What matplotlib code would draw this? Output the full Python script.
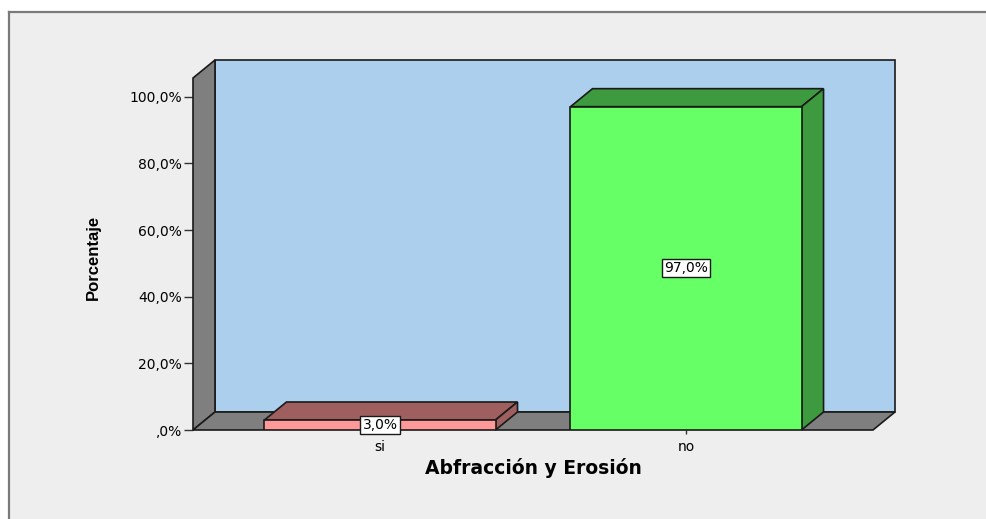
import matplotlib
matplotlib.use("Agg")
import matplotlib.pyplot as plt
from matplotlib.patches import Polygon, Rectangle
from matplotlib.lines import Line2D

categories = ["si", "no"]
percentages = [3.0, 97.0]
front_colors = ["#FF9999", "#66FF66"]
shade_colors = ["#A05F5F", "#3E9A3E"]
yticks = [0, 20, 40, 60, 80, 100]
ytick_labels = [",0%", "20,0%", "40,0%", "60,0%", "80,0%", "100,0%"]

W, H = 986, 519
fig = plt.figure(figsize=(W / 100, H / 100), dpi=100, facecolor="white")

# grey chart frame (open on the right/bottom)
fig.patches.append(Rectangle((9 / W, 0), 1, 1 - 12 / H, transform=fig.transFigure,
                             facecolor="#EEEEEE", edgecolor="none", zorder=-5))
fig.lines.append(Line2D([9 / W, 9 / W], [0, 1 - 12 / H], transform=fig.transFigure,
                        color="#7A7A7A", lw=1.6, zorder=-4))
fig.lines.append(Line2D([9 / W, 1], [1 - 12 / H, 1 - 12 / H], transform=fig.transFigure,
                        color="#7A7A7A", lw=1.6, zorder=-4))

x0, x1 = -0.611, 1.611
ytop = 105.6
ax = fig.add_axes([193 / W, (H - 430) / H, 680 / W, 352 / H])
ax.set_zorder(2)
ax.set_xlim(x0, x1)
ax.set_ylim(0, ytop)
ax.patch.set_visible(False)
for s in ax.spines.values():
    s.set_visible(False)

# depth of the 3D box, in data units
dx = 22 / (680 / (x1 - x0))
dy = 18 / (352 / ytop)

edge = dict(edgecolor="#1A1A1A", linewidth=1.2, clip_on=False)
# back wall, left wall, floor
ax.add_patch(Polygon([(x0 + dx, dy), (x1 + dx, dy), (x1 + dx, ytop + dy), (x0 + dx, ytop + dy)],
                     facecolor="#ACCFEE", zorder=1, **edge))
ax.add_patch(Polygon([(x0, 0), (x0 + dx, dy), (x0 + dx, ytop + dy), (x0, ytop)],
                     facecolor="#7F7F7F", zorder=2, **edge))
ax.add_patch(Polygon([(x0, 0), (x1, 0), (x1 + dx, dy), (x0 + dx, dy)],
                     facecolor="#7F7F7F", zorder=2, **edge))

bar_w = 0.755
bars = ax.bar(range(len(categories)), percentages, width=bar_w, color=front_colors,
              edgecolor="#1A1A1A", linewidth=1.2, zorder=5)
for b, sc in zip(bars, shade_colors):
    l, r, t = b.get_x(), b.get_x() + b.get_width(), b.get_height()
    ax.add_patch(Polygon([(l, t), (r, t), (r + dx, t + dy), (l + dx, t + dy)],
                         facecolor=sc, zorder=4, **edge))
    ax.add_patch(Polygon([(r, 0), (r + dx, dy), (r + dx, t + dy), (r, t)],
                         facecolor=sc, zorder=4, **edge))

for i, v in enumerate(percentages):
    ax.text(i, v / 2, f"{v:.1f}%".replace(".", ","), ha="center", va="center",
            fontsize=10, zorder=7,
            bbox=dict(boxstyle="square,pad=0.15", facecolor="white", edgecolor="#1A1A1A", lw=1.0))

ax.set_yticks(yticks)
ax.set_yticklabels(ytick_labels, fontsize=10)
ax.set_xticks(range(len(categories)))
ax.set_xticklabels(categories, fontsize=10)
ax.tick_params(axis="y", length=6.5, width=1.0, color="#333333", pad=1.5)
ax.tick_params(axis="x", length=3, width=1.0, color="#333333", pad=4)

fig.text(533 / W, 1 - 468 / H, "Abfracción y Erosión", ha="center", va="center",
         fontsize=13.5, fontweight="bold")
fig.text(93 / W, 1 - 257 / H, "Porcentaje", ha="center", va="center", rotation=90,
         fontsize=12, fontweight="bold", family="Liberation Sans")

fig.savefig("out.png", dpi=100, facecolor="white")
